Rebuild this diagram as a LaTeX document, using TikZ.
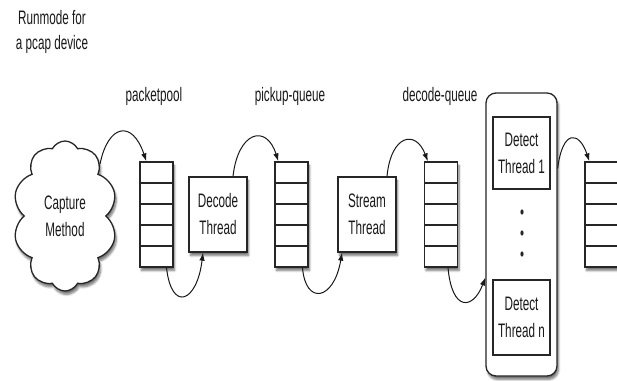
\documentclass[tikz,border=0pt]{standalone}
\usepackage{fontspec}
\setmainfont{Liberation Sans}[FakeStretch=0.6]
\usetikzlibrary{shapes.symbols,shadows.blur,calc,arrows.meta}
\begin{document}
\begin{tikzpicture}[x=1pt,y=-1pt,
  lbl/.style={font=\fontsize{19.5}{25}\selectfont, text=black!90, align=center, inner sep=0},
  boxtext/.style={font=\fontsize{19.5}{27}\selectfont, text=black!90, align=center},
  shade/.style={blur shadow={shadow xshift=1.5pt, shadow yshift=-3.5pt, shadow blur steps=7, shadow opacity=55}},
  outline/.style={draw=black!85, line width=1.3pt, fill=white},
  thread/.style={outline, minimum width=58pt, minimum height=75pt, boxtext, inner sep=0},
  queue/.style={outline, shade, minimum width=33pt, minimum height=105pt, inner sep=0,
     path picture={\foreach \k in {1,...,4}{\draw[black!85, line width=1.3pt]
       ([yshift=-\k*21pt]path picture bounding box.north west) --
       ([yshift=-\k*21pt]path picture bounding box.north east);}}},
  flow/.style={-{Latex[length=8pt,width=5.5pt]}, line width=1pt, black!90}
]
\useasboundingbox (0,0) rectangle (617,380);

% labels
\node[lbl] (title) at (52,32) {Runmode for\\a pcap device};
\node[lbl] (lpool) at (154,96) {packetpool};
\node[lbl] (lpick) at (290,96) {pickup-queue};
\node[lbl] (ldec)  at (440,96) {decode-queue};

% capture source
\node[cloud, cloud puffs=10, cloud puff arc=125, cloud ignores aspect,
      minimum width=104pt, minimum height=150pt, outline, shade, boxtext]
      (cap) at (65,216) {Capture\\Method};

% queues and threads
\node[queue] (q1) at (156.5,214.5) {};
\node[thread, shade] (dec) at (218,214.5) {Decode\\Thread};
\node[queue] (q2) at (291.5,214.5) {};
\node[thread, shade] (str) at (367,214.5) {Stream\\Thread};
\node[queue] (q3) at (441,214.5) {};

% detect thread pool
\node[outline, shade, rounded corners=10pt, minimum width=71pt, minimum height=283pt, inner sep=0]
      (pool) at (521.5,234.5) {};
\node[thread, minimum width=57pt, minimum height=72pt] (d1) at (521.5,153) {Detect\\Thread 1};
\node[thread, minimum width=57pt, minimum height=75pt] (dn) at (521.5,317.5) {Detect\\Thread n};
\fill[black!85] (522,212) ellipse (1.6 and 2.6);
\fill[black!85] (522,233) ellipse (1.6 and 2.6);
\fill[black!85] (522,254) ellipse (1.6 and 2.6);

\node[queue] (q4) at (601.5,214.5) {};

% packet flow
\draw[flow] (cap.56) .. controls +(8,-40) and +(-14,-42) .. ($(q1.north west)+(7,0)$);
\draw[flow] ($(q1.south)+(10,0)$) .. controls +(5,45) and +(-6,50) .. ($(dec.south)+(-15,0)$);
\draw[flow] ($(dec.north)+(15,0)$) .. controls +(5,-45) and +(-12,-38) .. ($(q2.north west)+(4,0)$);
\draw[flow] ($(q2.south)+(11,0)$) .. controls +(3,38) and +(-8,48) .. ($(str.south)+(-25,0)$);
\draw[flow] ($(str.north)+(20,0)$) .. controls +(4,-42) and +(-12,-32) .. ($(q3.north west)+(4,0)$);
\draw[flow] ($(q3.south)+(7,0)$) .. controls +(4,45) and +(-12,32) .. ($(pool.west)+(0,43)$);
\draw[flow] ($(pool.east)+(0,-66)$) .. controls +(5,-40) and +(-10,-30) .. ($(q4.north west)+(5,0)$);
\end{tikzpicture}
\end{document}
